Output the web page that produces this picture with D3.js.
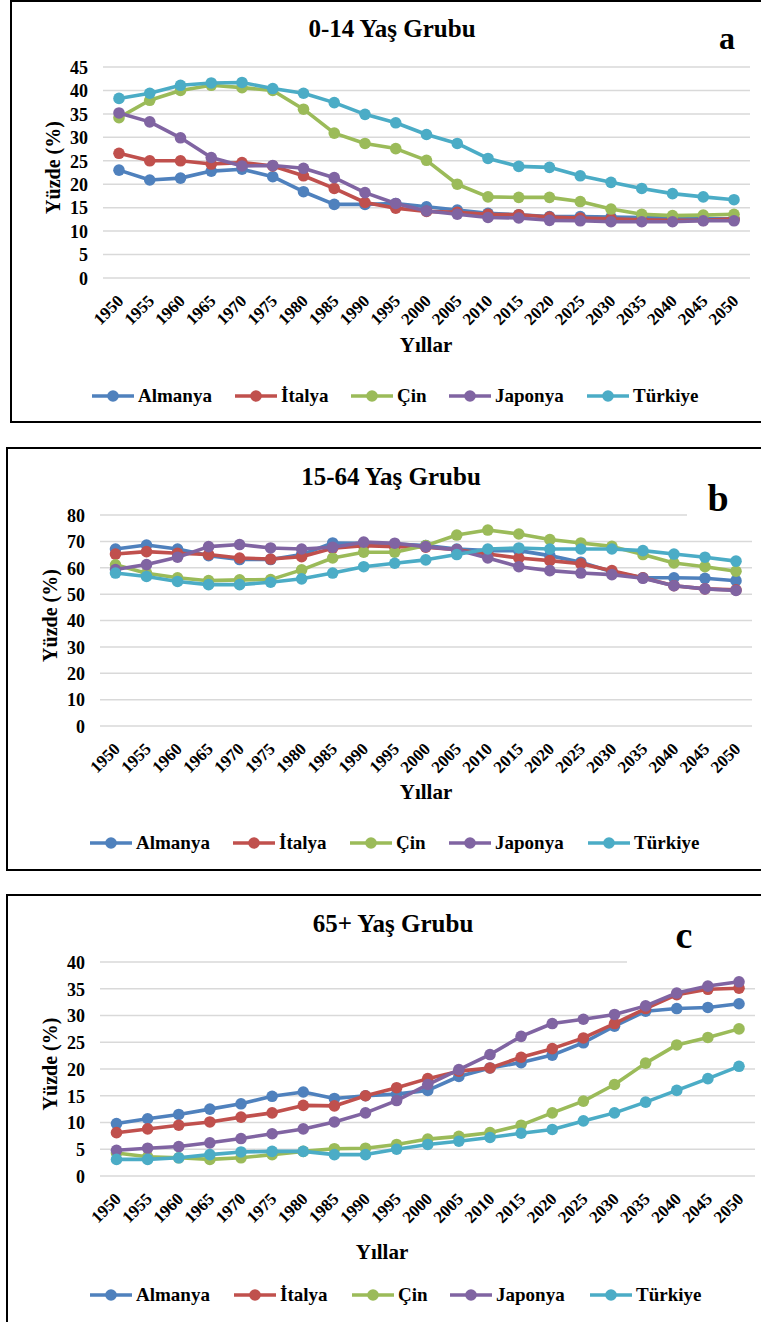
<!DOCTYPE html>
<html><head><meta charset="utf-8">
<script src="https://cdn.jsdelivr.net/npm/d3@7"></script>
<style>body{margin:0;background:#fff}svg{display:block}</style>
</head><body>
<script>
const years = ["1950","1955","1960","1965","1970","1975","1980","1985","1990","1995","2000","2005","2010","2015","2020","2025","2030","2035","2040","2045","2050"];
const countries = ["Almanya","İtalya","Çin","Japonya","Türkiye"];
const colors = ["#4F81BD","#C0504D","#9BBB59","#8064A2","#4BACC6"];

// a: 0-14
const almanyaA = [23.0,20.9,21.3,22.8,23.2,21.6,18.4,15.7,15.7,15.9,15.2,14.5,13.8,13.5,13.1,13.1,13.0,12.9,12.8,12.6,12.6];
const italyaA  = [26.6,25.0,25.0,24.3,24.6,23.9,21.8,19.1,16.1,14.9,14.2,14.0,13.6,13.5,13.0,12.8,12.6,12.4,12.3,12.3,12.6];
const cinA     = [34.2,37.9,40.0,41.1,40.6,40.0,36.0,30.9,28.7,27.6,25.1,20.0,17.3,17.2,17.2,16.3,14.7,13.6,13.3,13.4,13.6];
const japonyaA = [35.2,33.3,29.9,25.7,23.9,24.0,23.4,21.4,18.2,15.9,14.3,13.6,12.9,12.8,12.3,12.2,12.0,12.0,12.0,12.2,12.2];
const turkiyeA = [38.3,39.4,41.1,41.6,41.7,40.4,39.4,37.4,34.9,33.1,30.6,28.7,25.5,23.8,23.6,21.8,20.4,19.1,18.0,17.3,16.7];
// b: 15-64
const almanyaB = [67.1,68.6,67.1,64.6,63.1,63.1,65.0,69.4,69.3,69.0,68.4,67.1,66.5,66.5,64.6,62.1,58.5,56.2,56.2,56.0,55.1];
const italyaB  = [65.2,66.1,65.5,65.0,63.7,63.3,64.2,67.4,68.4,68.0,67.8,66.8,65.2,63.7,62.7,61.5,58.9,56.2,53.2,52.0,51.6];
const cinB     = [61.1,57.9,56.2,55.1,55.4,55.5,59.2,63.7,65.9,65.9,68.4,72.4,74.3,72.8,70.7,69.4,68.1,65.0,61.8,60.4,58.7];
const japonyaB = [59.3,61.2,64.0,68.0,68.8,67.5,67.1,67.8,69.7,69.3,68.0,66.8,63.7,60.4,58.9,58.0,57.4,56.0,53.2,52.0,51.4];
const turkiyeB = [58.0,56.7,54.8,53.6,53.6,54.5,55.8,58.0,60.4,61.7,63.0,65.0,67.1,67.5,67.1,67.1,67.1,66.5,65.2,64.0,62.5];
// c: 65+
const almanyaC = [9.8,10.7,11.5,12.5,13.5,14.9,15.7,14.5,15.0,15.3,16.0,18.6,20.2,21.2,22.6,24.9,28.0,30.8,31.3,31.5,32.2];
const italyaC  = [8.1,8.8,9.5,10.1,11.0,11.8,13.2,13.1,15.0,16.5,18.2,19.6,20.2,22.2,23.8,25.8,28.5,31.3,33.9,34.9,35.1];
const cinC     = [4.3,3.6,3.4,3.1,3.4,4.0,4.6,5.1,5.2,5.9,6.9,7.4,8.1,9.5,11.8,14.0,17.1,21.1,24.5,25.9,27.5];
const japonyaC = [4.8,5.2,5.5,6.2,7.0,7.9,8.8,10.1,11.8,14.1,17.1,19.9,22.7,26.1,28.5,29.3,30.2,31.8,34.2,35.5,36.3];
const turkiyeC = [3.1,3.1,3.4,4.0,4.5,4.6,4.6,4.0,4.0,5.0,5.9,6.5,7.2,8.0,8.7,10.3,11.8,13.8,16.0,18.2,20.5];

const ticksA = [0,5,10,15,20,25,30,35,40,45];
const ticksB = [0,10,20,30,40,50,60,70,80];
const ticksC = [0,5,10,15,20,25,30,35,40];

const FONT = '"Liberation Serif"';

const panels = [
  {title:"0-14 Yaş Grubu", letter:"a", series:[almanyaA,italyaA,cinA,japonyaA,turkiyeA], ticks:ticksA,
   box:[11,1,790,421], x0:119, x1:734, y0:278, y1:67, gx0:103, gx1:750, topGridEnd:750,
   titleXY:[392,37], letterXY:[727,49], letterSize:32, xlabXY:[426,352], legY:396, legX:[113,256,372,470,608]},
  {title:"15-64 Yaş Grubu", letter:"b", series:[almanyaB,italyaB,cinB,japonyaB,turkiyeB], ticks:ticksB,
   box:[7,448,790,422], x0:115.5, x1:736, y0:726, y1:515, gx0:100, gx1:752, topGridEnd:687,
   titleXY:[391,485], letterXY:[718,511], letterSize:38, xlabXY:[426,799], legY:843, legX:[111,254,371,470,609]},
  {title:"65+ Yaş Grubu", letter:"c", series:[almanyaC,italyaC,cinC,japonyaC,turkiyeC], ticks:ticksC,
   box:[7,895,790,460], x0:116.5, x1:739, y0:1176, y1:962, gx0:100, gx1:755, topGridEnd:627,
   titleXY:[393,932], letterXY:[684,948], letterSize:38, xlabXY:[382,1259], legY:1295, legX:[111,255,373,471,611]}
];

const svg = d3.select("body").append("svg").attr("width",761).attr("height",1322);
svg.append("rect").attr("width",761).attr("height",1322).attr("fill","#fff");

function txt(sel, size){
  return sel.attr("font-family",FONT).attr("font-weight","bold").attr("font-size",size).attr("fill","#000");
}

panels.forEach(p=>{
  const g = svg.append("g");
  g.append("rect").attr("x",p.box[0]).attr("y",p.box[1]).attr("width",p.box[2]).attr("height",p.box[3])
    .attr("fill","#fff").attr("stroke","#000").attr("stroke-width",2);
  const x = d3.scalePoint().domain(years).range([p.x0,p.x1]);
  const y = d3.scaleLinear().domain([p.ticks[0],p.ticks[p.ticks.length-1]]).range([p.y0,p.y1]);
  const maxT = p.ticks[p.ticks.length-1];
  g.selectAll(".grid").data(p.ticks).enter().append("line")
    .attr("x1",p.gx0).attr("x2",d=>d===maxT?p.topGridEnd:p.gx1)
    .attr("y1",d=>y(d)).attr("y2",d=>y(d)).attr("stroke","#D9D9D9").attr("stroke-width",1.5);
  const ya = d3.axisLeft(y).tickValues(p.ticks).tickSize(0).tickPadding(0);
  const yg = g.append("g").attr("transform",`translate(${p.gx0-15},0)`).call(ya);
  yg.attr("font-family",FONT).attr("font-size",18);
  yg.select(".domain").remove();
  txt(yg.selectAll("text"),18).attr("dy","0.35em");
  const xa = d3.axisBottom(x).tickSize(0).tickPadding(0);
  const xg = g.append("g").attr("transform",`translate(0,${p.y0})`).call(xa);
  xg.attr("font-family",FONT).attr("font-size",17);
  xg.select(".domain").remove();
  txt(xg.selectAll("text"),17).attr("text-anchor","end").attr("dy",null).attr("y",0)
    .attr("transform","translate(5,24) rotate(-45)");
  txt(g.append("text"),25).attr("x",p.titleXY[0]).attr("y",p.titleXY[1]).attr("text-anchor","middle").text(p.title);
  txt(g.append("text"),p.letterSize).attr("x",p.letterXY[0]).attr("y",p.letterXY[1]).attr("text-anchor","middle").text(p.letter);
  txt(g.append("text"),21).attr("x",p.xlabXY[0]).attr("y",p.xlabXY[1]).attr("text-anchor","middle").text("Yıllar");
  const yc = (p.y0+p.y1)/2 - 5;
  txt(g.append("text"),20).attr("transform",`translate(${p.gx0-43},${yc}) rotate(-90)`).attr("text-anchor","middle").text("Yüzde (%)");
  const line = d3.line().x((d,i)=>x(years[i])).y(d=>y(d));
  p.series.forEach((s,k)=>{
    g.append("path").datum(s).attr("d",line).attr("fill","none").attr("stroke",colors[k]).attr("stroke-width",3.6).attr("stroke-linejoin","round");
    g.selectAll(null).data(s).enter().append("circle")
      .attr("cx",(d,i)=>x(years[i])).attr("cy",d=>y(d)).attr("r",5.8).attr("fill",colors[k]);
  });
  countries.forEach((c,k)=>{
    const mx = p.legX[k];
    g.append("line").attr("x1",mx-21).attr("x2",mx+21).attr("y1",p.legY).attr("y2",p.legY).attr("stroke",colors[k]).attr("stroke-width",3.6);
    g.append("circle").attr("cx",mx).attr("cy",p.legY).attr("r",5.8).attr("fill",colors[k]);
    txt(g.append("text"),19).attr("x",mx+25).attr("y",p.legY+6).text(c);
  });
});
</script>
</body></html>
